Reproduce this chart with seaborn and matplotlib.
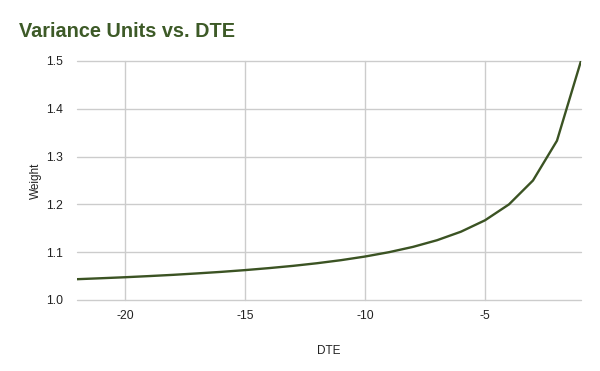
import matplotlib
matplotlib.use("Agg")
import matplotlib.pyplot as plt
import seaborn as sns
import pandas as pd

dte = [-22, -21, -20, -19, -18, -17, -16, -15, -14, -13, -12, -11,
       -10, -9, -8, -7, -6, -5, -4, -3, -2, -1]
weight = [1.0435, 1.0455, 1.0476, 1.05, 1.0526, 1.0556, 1.0588, 1.0625,
          1.0667, 1.0714, 1.0769, 1.0833, 1.0909, 1.1, 1.1111, 1.125,
          1.1429, 1.1667, 1.2, 1.25, 1.3333, 1.5]
xticks = [-20, -15, -10, -5]
yticks = [1.0, 1.1, 1.2, 1.3, 1.4, 1.5]

df = pd.DataFrame({"DTE": dte, "Weight": weight})

sns.set_theme(style="white")
plt.rcParams["font.family"] = ["Liberation Sans", "DejaVu Sans"]

fig = plt.figure(figsize=(6, 3.71), dpi=100)
ax = fig.add_axes([0.1283, 0.1914, 0.84, 0.6442])

sns.lineplot(data=df, x="DTE", y="Weight", ax=ax, color="#3b5323", linewidth=1.7)

ax.set_xlim(-22, -1)
ax.set_ylim(1.0, 1.5)
ax.set_xticks(xticks)
ax.set_xticklabels([str(t) for t in xticks])
ax.set_yticks(yticks)
ax.set_yticklabels([f"{t:.1f}" for t in yticks])
ax.grid(True, color="#cccccc", linewidth=1)
ax.set_axisbelow(True)
for gl in ax.get_ygridlines() + ax.get_xgridlines():
    gl.set_clip_on(False)
for s in ax.spines.values():
    s.set_visible(False)
ax.tick_params(axis="both", length=0, labelsize=8.7, colors="#222222")
ax.tick_params(axis="x", pad=7)
ax.tick_params(axis="y", pad=10)
ax.set_xlabel("DTE", fontsize=8.5, color="#222222", labelpad=17)
ax.set_ylabel("Weight", fontsize=8.5, color="#222222", labelpad=3)

fig.text(0.032, 0.915, "Variance Units vs. DTE", fontsize=14.3, fontweight="bold",
         color="#3d5a27", ha="left", va="center")

fig.savefig("out.png", dpi=100)
